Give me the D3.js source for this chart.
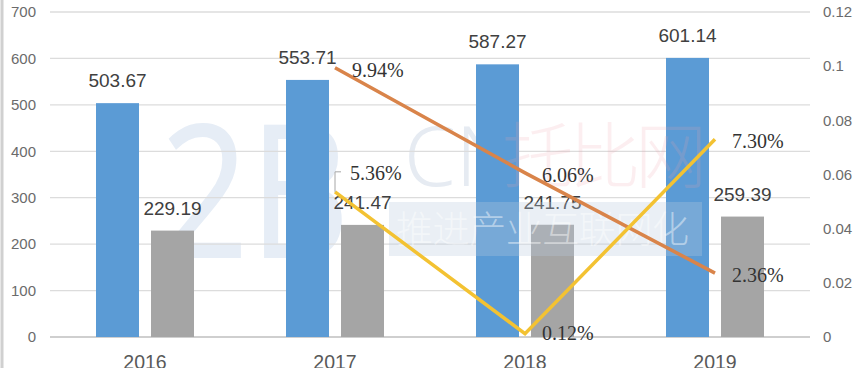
<!DOCTYPE html>
<html><head><meta charset="utf-8">
<script src="https://cdn.jsdelivr.net/npm/d3@7"></script>
<style>body{margin:0;background:#fff}svg{display:block}
.pct{font-family:"Liberation Serif","Times New Roman","DejaVu Serif",serif;font-size:20px;fill:#333}
</style>
</head><body>
<svg id="c" width="864" height="368"></svg>
<script>
const years = ["2016","2017","2018","2019"];
const seriesA = [503.67, 553.71, 587.27, 601.14];
const seriesB = [229.19, 241.47, 241.75, 259.39];
const rateYears = ["2017","2018","2019"];
const rateOrange = [0.0994, 0.0606, 0.0236];
const rateYellow = [0.0536, 0.0012, 0.0730];
const leftTicks = [0,100,200,300,400,500,600,700];
const rightTicks = [0,0.02,0.04,0.06,0.08,0.1,0.12];

const svg = d3.select("#c");
const W=864,H=368, L=50, R=810, T=12, B=337;
const x = d3.scaleBand().domain(years).range([L,R]).paddingInner(0).paddingOuter(0);
const x1 = d3.scaleBand().domain(["a","b"]).range([-49,49]).paddingInner(0.218);
const y = d3.scaleLinear().domain([0,700]).range([B,T]);
const y2 = d3.scaleLinear().domain([0,0.12]).range([B,T]);
const cx = d => x(d)+x.bandwidth()/2;
const SANS = "'Liberation Sans', Arial, sans-serif";

// frame
svg.append("line").attr("x1",2).attr("x2",2).attr("y1",0).attr("y2",H).attr("stroke","#d0d0d0").attr("stroke-width",3);

// watermark (under marks)
const wm = svg.append("g").attr("pointer-events","none");
wm.append("text").attr("x",160).attr("y",258).attr("font-family","'Noto Sans', sans-serif")
  .attr("font-size",186).attr("fill","#e6edf6").attr("textLength",190).attr("lengthAdjust","spacingAndGlyphs").text("2B");
wm.append("text").attr("x",404).attr("y",186).attr("font-family","'Noto Sans', sans-serif").attr("font-weight",300)
  .attr("font-size",83).attr("fill","#e6ebf2").text("CN");

// gridlines
svg.append("g").selectAll("line").data(leftTicks).join("line")
  .attr("x1",L).attr("x2",R).attr("y1",d=>y(d)).attr("y2",d=>y(d))
  .attr("stroke",d=>d===0?"#cfcfcf":"#dcdcdc").attr("stroke-width",d=>d===0?2:1.3);

// axes
const ax = svg.append("g").attr("transform",`translate(${L-14},0)`)
  .call(d3.axisLeft(y).tickValues(leftTicks).tickSize(0).tickPadding(0));
ax.select(".domain").remove();
ax.selectAll("text").attr("font-family",SANS).attr("font-size",15).attr("fill","#6b6b6b");
const ax2 = svg.append("g").attr("transform",`translate(${R+13},0)`)
  .call(d3.axisRight(y2).tickValues(rightTicks).tickFormat(d=>String(+d.toFixed(2))).tickSize(0).tickPadding(0));
ax2.select(".domain").remove();
ax2.selectAll("text").attr("font-family",SANS).attr("font-size",15).attr("fill","#6b6b6b");
const axb = svg.append("g").attr("transform",`translate(0,${B+14})`)
  .call(d3.axisBottom(x).tickSize(0).tickPadding(0));
axb.select(".domain").remove();
axb.selectAll("text").attr("font-family",SANS).attr("font-size",19.5).attr("fill","#595959").attr("dy","0.9em");

// bars
const g = svg.append("g");
g.selectAll("rect.a").data(years).join("rect").attr("class","a")
  .attr("x",(d)=>cx(d)+x1("a")).attr("width",x1.bandwidth())
  .attr("y",(d,i)=>y(seriesA[i])).attr("height",(d,i)=>B-y(seriesA[i])).attr("fill","#5b9bd5");
g.selectAll("rect.b").data(years).join("rect").attr("class","b")
  .attr("x",(d)=>cx(d)+x1("b")).attr("width",x1.bandwidth())
  .attr("y",(d,i)=>y(seriesB[i])).attr("height",(d,i)=>B-y(seriesB[i])).attr("fill","#a5a5a5");

// watermark overlay parts
const wm2 = svg.append("g").attr("pointer-events","none");
wm2.append("text").attr("x",502).attr("y",182).attr("font-family","'Noto Sans CJK SC', sans-serif").attr("font-weight",300)
  .attr("font-size",72).attr("fill","#f0a0ac").attr("fill-opacity",0.18).attr("textLength",205).text("托比网");
wm2.append("rect").attr("x",389).attr("y",202).attr("width",313).attr("height",54)
  .attr("fill","#b9c9de").attr("fill-opacity",0.3);
wm2.append("text").attr("x",396).attr("y",243).attr("font-family","'Noto Sans CJK SC', sans-serif").attr("font-weight",300)
  .attr("font-size",37).attr("fill","#ffffff").attr("fill-opacity",0.45).attr("textLength",293).text("推进产业互联网化");

// bar labels
g.selectAll("text.la").data(years).join("text").attr("class","la")
  .attr("x",d=>cx(d)+x1("a")+x1.bandwidth()/2).attr("y",(d,i)=>y(seriesA[i])-16)
  .attr("text-anchor","middle").attr("font-family",SANS).attr("font-size",19).attr("fill","#404040")
  .text((d,i)=>seriesA[i].toFixed(2));
g.selectAll("text.lb").data(years).join("text").attr("class","lb")
  .attr("x",d=>cx(d)+x1("b")+x1.bandwidth()/2).attr("y",(d,i)=>y(seriesB[i])-16)
  .attr("text-anchor","middle").attr("font-family",SANS).attr("font-size",19).attr("fill","#404040")
  .text((d,i)=>seriesB[i].toFixed(2));

// lines
const line = d3.line().x(d=>cx(d[0])).y(d=>y2(d[1]));
svg.append("path").datum(rateYears.map((d,i)=>[d,rateOrange[i]]))
  .attr("d",line).attr("fill","none").attr("stroke","#d9844a").attr("stroke-width",3.5);
svg.append("path").datum(rateYears.map((d,i)=>[d,rateYellow[i]]))
  .attr("d",line).attr("fill","none").attr("stroke","#f3c232").attr("stroke-width",3.5);

// percent labels
const pf = v => (v*100).toFixed(2)+"%";
function plab(yr,v,dy){
  svg.append("text").attr("class","pct").attr("x",cx(yr)+17).attr("y",y2(v)+dy).text(pf(v));
}
rateYears.forEach((yr,i)=>plab(yr,rateOrange[i],9));
rateYears.forEach((yr,i)=>{ if(i>0) plab(yr,rateYellow[i], i===1?6:9); });
// 5.36% with leader line
{
  const px=cx(rateYears[0]), py=y2(rateYellow[0]);
  svg.append("path").attr("d",`M${px},${py} L${px},${py-20} L${px+6},${py-20}`)
    .attr("fill","none").attr("stroke","#a6a6a6").attr("stroke-width",1);
  svg.append("text").attr("class","pct").attr("x",px+15).attr("y",py-12).text(pf(rateYellow[0]));
}
</script>
</body></html>
